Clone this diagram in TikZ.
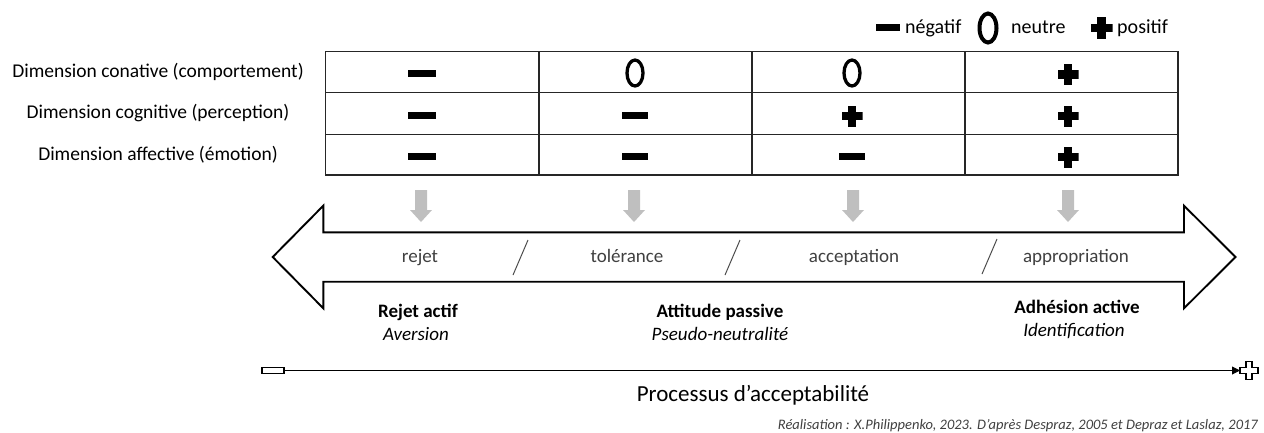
\documentclass[tikz,border=0pt]{standalone}
\usepackage{fontspec}
\setmainfont{Carlito}
\usetikzlibrary{shapes.geometric,arrows.meta,calc}
\definecolor{gray1}{HTML}{BFBFBF}
\definecolor{txtgray}{HTML}{404040}
\tikzset{
  minussym/.style={rectangle,fill=black,minimum width=26pt,minimum height=7pt,inner sep=0pt},
  osym/.style={ellipse,draw=black,line width=3.3pt,minimum width=16pt,minimum height=26pt,inner sep=0pt},
  plussym/.style={rectangle,minimum size=#1,inner sep=0pt,
    path picture={\fill[black] ([xshift=-0.2*#1]path picture bounding box.north) rectangle ([xshift=0.2*#1]path picture bounding box.south);
                  \fill[black] ([yshift=-0.2*#1]path picture bounding box.west) rectangle ([yshift=0.2*#1]path picture bounding box.east);}},
  plussym/.default=21pt,
  dimlabel/.style={font=\fontsize{19.5}{22}\selectfont,anchor=center},
  legtext/.style={font=\fontsize{20}{22}\selectfont,anchor=base west,inner sep=0pt},
  stage/.style={font=\fontsize{19}{22}\selectfont,text=txtgray,anchor=base,inner sep=0pt},
  attit/.style={font=\fontsize{19}{23}\selectfont,anchor=base,inner sep=0pt},
  grid/.style={line width=1.4pt,draw=black!85},
  slash/.style={line width=1pt,draw=black!70},
  grayarrow/.style={fill=gray1},
}
\begin{document}
\begin{tikzpicture}[x=1pt,y=-1pt]
\useasboundingbox (0,0) rectangle (1264,432);
% legend
\node[minussym,minimum width=24pt] (lgm) at (888,27.5) {};
\node[legtext] (lgmt) at (905,33.5) {négatif};
\node[osym,minimum width=17pt,minimum height=29pt,line width=4pt] (lgo) at (988,28) {};
\node[legtext] (lgot) at (1011,33.5) {neutre};
\node[plussym=22pt] (lgp) at (1101.5,28) {};
\node[legtext] (lgpt) at (1117,33.5) {positif};
% table
\draw[grid] (325.7,51.7) rectangle (1178,175);
\draw[grid] (325.7,92.3) -- (1178,92.3);
\draw[grid] (325.7,134.3) -- (1178,134.3);
\foreach \x in {539,752,965} \draw[grid] (\x,51.7) -- (\x,175);
% row labels
\node[dimlabel] (d1) at (158,72) {Dimension conative (comportement)};
\node[dimlabel] (d2) at (158,113.5) {Dimension cognitive (perception)};
\node[dimlabel] (d3) at (158,155) {Dimension affective (émotion)};
% row 1
\node[minussym,minimum width=28pt] (s11) at (422,73) {};
\node[osym] (s12) at (635,73) {};
\node[osym] (s13) at (852,73) {};
\node[plussym] (s14) at (1068,74.5) {};
% row 2
\node[minussym,minimum width=28pt] (s21) at (422,115) {};
\node[minussym] (s22) at (635,115) {};
\node[plussym] (s23) at (852,116) {};
\node[plussym] (s24) at (1068,116) {};
% row 3
\node[minussym,minimum width=28pt] (s31) at (422,156) {};
\node[minussym] (s32) at (635,156) {};
\node[minussym] (s33) at (852,156) {};
\node[plussym] (s34) at (1068,157) {};
% gray arrows
\foreach \x/\n in {421/g1,634/g2,853/g3,1068/g4}{
  \fill[grayarrow] (\x-6,190) -- (\x+6,190) -- (\x+6,210) -- (\x+11,210) -- (\x,222) -- (\x-11,210) -- (\x-6,210) -- cycle;
}
% big double arrow
\draw[line width=1.9pt,line join=miter,fill=white]
  (272.7,257) -- (323.3,205.7) -- (323.3,232.3) -- (1184,232.3) -- (1184,205.7) -- (1235.5,257)
  -- (1184,308.3) -- (1184,281.7) -- (323.3,281.7) -- (323.3,308.3) -- cycle;
\node[stage] (st1) at (420,262) {rejet};
\node[stage] (st2) at (627,262) {tolérance};
\node[stage] (st3) at (854,262) {acceptation};
\node[stage] (st4) at (1076,262) {appropriation};
\draw[slash] (528,240) -- (513,275);
\draw[slash] (740,240) -- (725,275);
\draw[slash] (997,239) -- (982,274);
% attitudes
\node[attit] (a1) at (418,317.5) {\textbf{Rejet actif}};
\node[attit] (a1b) at (416,340.5) {\textit{Aversion}};
\node[attit] (a2) at (720,317.5) {\textbf{Attitude passive}};
\node[attit] (a2b) at (720,340.5) {\textit{Pseudo-neutralité}};
\node[attit] (a3) at (1077,313.5) {\textbf{Adhésion active}};
\node[attit] (a3b) at (1074,336.5) {\textit{Identification}};
% process axis
\node[rectangle,draw=black,line width=1.3pt,fill=white,minimum width=22pt,minimum height=6pt,inner sep=0pt] (pm) at (273,370.5) {};
\coordinate (pp) at (1249,370.5);
\draw[line width=1.3pt,fill=white,line join=miter]
  ($(pp)+(-3,-9)$) -- ++(6,0) -- ++(0,6) -- ++(6,0) -- ++(0,6) -- ++(-6,0) -- ++(0,6) -- ++(-6,0) -- ++(0,-6) -- ++(-6,0) -- ++(0,-6) -- ++(6,0) -- cycle;
\coordinate (ppw) at (1240,370.5);
\draw[line width=0.9pt,-{Triangle[length=8pt,width=8pt]}] (pm.east) -- (ppw);
\node[font=\fontsize{23}{26}\selectfont,anchor=base,inner sep=0pt] (proc) at (753,401) {Processus d’acceptabilité};
\node[anchor=base east,font=\fontsize{14.5}{16}\selectfont\itshape,text=txtgray,inner sep=0pt] (real) at (1258,429) {Réalisation : X.Philippenko, 2023. D’après Despraz, 2005 et Depraz et Laslaz, 2017};
\end{tikzpicture}
\end{document}
